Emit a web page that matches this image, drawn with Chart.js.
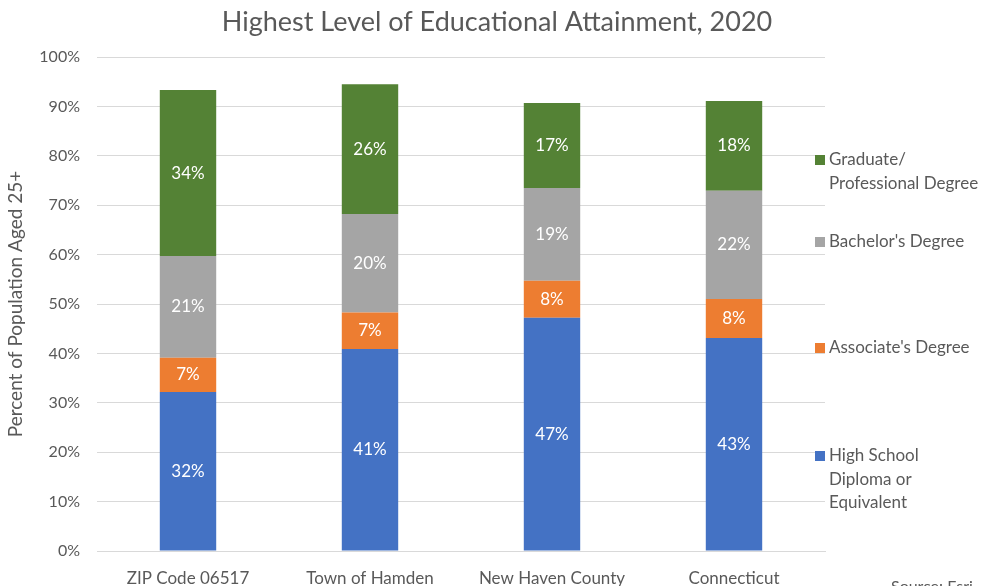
<!DOCTYPE html>
<html>
<head>
<meta charset="utf-8">
<script src="https://cdn.jsdelivr.net/npm/chart.js@4.4.0/dist/chart.umd.min.js"></script>
<style>
  html, body { margin: 0; padding: 0; background: #fff; }
  #wrap { width: 986px; height: 586px; position: relative; }
</style>
</head>
<body>
<div id="wrap"><canvas id="eduChart" width="986" height="586"></canvas></div>
<script>
const categories = ['ZIP Code 06517', 'Town of Hamden', 'New Haven County', 'Connecticut'];
const highSchool = [32.2, 40.9, 47.2, 43.1];
const associate = [6.9, 7.4, 7.5, 7.9];
const bachelor = [20.6, 19.9, 18.8, 21.9];
const graduate = [33.6, 26.3, 17.2, 18.2];
const yTicks = [0, 10, 20, 30, 40, 50, 60, 70, 80, 90, 100];

const seriesNames = [
  ['High School', 'Diploma or', 'Equivalent'],
  ["Associate's Degree"],
  ["Bachelor's Degree"],
  ['Graduate/', 'Professional Degree']
];
const seriesColors = ['#4472C4', '#ED7D31', '#A5A5A5', '#548235'];
const chartTitle = 'Highest Level of Educational Attainment, 2020';

const FONT = 'Lato, "Open Sans", sans-serif';
const TEXT = '#595959';

// white % labels in the middle of each segment
const segmentLabels = {
  id: 'segmentLabels',
  afterDatasetsDraw(chart) {
    const ctx = chart.ctx;
    ctx.save();
    ctx.fillStyle = '#ffffff';
    ctx.font = '17px ' + FONT;
    ctx.textAlign = 'center';
    ctx.textBaseline = 'middle';
    chart.data.datasets.forEach((ds, i) => {
      chart.getDatasetMeta(i).data.forEach((bar, j) => {
        const mid = (bar.y + bar.base) / 2;
        ctx.fillText(Math.round(ds.data[j]) + '%', bar.x, mid);
      });
    });
    ctx.restore();
  }
};

// title centred on the whole canvas, Excel-like legend on the right
const sideLegend = {
  id: 'sideLegend',
  afterDraw(chart) {
    const ctx = chart.ctx;
    const area = chart.chartArea;
    const rowTops = [399, 291, 185, 103]; // offsets from chart top, per series
    ctx.save();
    ctx.fillStyle = TEXT;
    ctx.font = '27px ' + FONT;
    ctx.textAlign = 'center';
    ctx.textBaseline = 'middle';
    ctx.fillText(chartTitle, chart.width / 2 + 4, 22);

    ctx.font = '17px ' + FONT;
    ctx.textAlign = 'left';
    seriesNames.forEach((lines, i) => {
      const y0 = area.top + rowTops[i];
      ctx.fillStyle = seriesColors[i];
      ctx.fillRect(area.right - 10, y0 - 5, 10, 10);
      ctx.fillStyle = TEXT;
      lines.forEach((t, k) => ctx.fillText(t, area.right + 4, y0 + k * 23.5));
    });
    ctx.font = '16px ' + FONT;
    ctx.fillText('Source: Esri', area.right + 66, chart.height + 1);
    ctx.restore();
  }
};

const datasets = [highSchool, associate, bachelor, graduate].map((d, i) => ({
  label: seriesNames[i].join(' '),
  data: d,
  backgroundColor: seriesColors[i],
  borderWidth: 0,
  categoryPercentage: 1,
  barPercentage: 0.31
}));

new Chart(document.getElementById('eduChart'), {
  type: 'bar',
  data: { labels: categories, datasets: datasets },
  options: {
    responsive: false,
    animation: false,
    layout: { padding: { left: 4, right: 161, top: 57, bottom: 0 } },
    plugins: {
      legend: { display: false },
      tooltip: { enabled: false },
      title: { display: false }
    },
    scales: {
      x: {
        stacked: true,
        grid: { display: false },
        border: { color: '#d9d9d9' },
        ticks: { color: TEXT, font: { family: FONT, size: 17 }, padding: 9 },
        afterFit: axis => { axis.height = 35; }
      },
      y: {
        stacked: true,
        min: 0,
        max: 100,
        afterBuildTicks: axis => { axis.ticks = yTicks.map(v => ({ value: v })); },
        afterFit: axis => { axis.width = 93; },
        grid: { color: '#d9d9d9', drawTicks: false },
        border: { display: false },
        ticks: { color: TEXT, font: { family: FONT, size: 16 }, padding: 17, callback: v => v + '%' },
        title: {
          display: true,
          text: 'Percent of Population Aged 25+',
          color: TEXT,
          font: { family: FONT, size: 19 },
          padding: { top: 0, bottom: 0 }
        }
      }
    }
  },
  plugins: [segmentLabels, sideLegend]
});
</script>
</body>
</html>
